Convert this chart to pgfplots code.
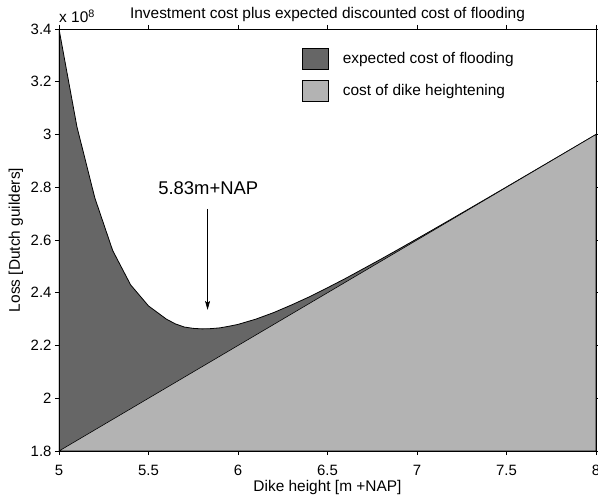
\documentclass[border=0pt]{standalone}
\usepackage{fontspec}
\setmainfont{Liberation Sans}
\usepackage{pgfplots}
\pgfplotsset{compat=1.18}
\usetikzlibrary{arrows.meta}
\definecolor{darkfill}{RGB}{102,102,102}
\definecolor{lightfill}{RGB}{179,179,179}
\begin{document}
\begin{tikzpicture}
\begin{axis}[
  name=ax,
  scale only axis,
  clip mode=individual,
  width=537bp, height=422bp,
  xmin=5, xmax=8, ymin=1.8, ymax=3.4,
  xtick={5,5.5,...,8}, ytick={1.8,2,...,3.4},
  yticklabels={1.8,2,2.2,2.4,2.6,2.8,3,3.2,3.4},
  xticklabels={5,5.5,6,6.5,7,7.5,8},
  tick align=outside,
  major tick length=4bp,
  tick style={black, line width=0.6pt},
  axis line style={black, line width=0.8pt},
  axis on top,
  font=\fontsize{15}{17}\selectfont,
  /pgf/number format/assume math mode=true,
  xticklabel style={anchor=base, yshift=-20bp},
  title={Investment cost plus expected discounted cost of flooding},
  title style={font=\fontsize{15.5}{17}\selectfont, at={(axis description cs:0.5,1)}, anchor=base, yshift=5bp},
  xlabel={Dike height [m +NAP]},
  ylabel={Loss [Dutch guilders]},
  xlabel style={font=\fontsize{15.5}{17}\selectfont, at={(axis description cs:0.5,0)}, anchor=base, yshift=-40bp},
  ylabel style={font=\fontsize{15.5}{17}\selectfont, at={(axis description cs:0,0.5)}, anchor=base, yshift=39bp},
  legend cell align=left,
  legend style={at={(rel axis cs:0.4525,0.955)}, anchor=north west, draw=none, fill=none,
     font=\fontsize{15.5}{17}\selectfont, row sep=10.5bp, inner sep=0pt,
     nodes={inner sep=0pt},
     /tikz/every odd column/.append style={column sep=14bp}},
  legend image code/.code={\draw[#1,draw=black,line width=0.6pt] (0bp,-10.5bp) rectangle (26bp,10.5bp);},
]
\addplot[fill=darkfill, draw=black, line width=0.8pt] coordinates {
(5.0,3.400) (5.1,3.030) (5.2,2.760) (5.3,2.560) (5.4,2.430) (5.5,2.350)
(5.6,2.300) (5.65,2.282) (5.7,2.270) (5.75,2.265) (5.8,2.263) (5.85,2.264) (5.9,2.267) (5.95,2.273)
(6.0,2.280) (6.1,2.300) (6.2,2.325) (6.3,2.354) (6.4,2.385) (6.5,2.419)
(6.6,2.454) (6.7,2.491) (6.8,2.528) (6.9,2.566) (7.0,2.6045) (7.1,2.6434)
(7.2,2.6825) (7.3,2.7219) (7.4,2.7614) (7.5,2.801) (7.6,2.8408) (7.7,2.8806)
(7.8,2.9204) (7.9,2.9603) (8.0,3.0002)
} \closedcycle;
\addlegendentry{expected cost of flooding}
\addplot[fill=lightfill, draw=black, line width=0.6pt] coordinates {
(5.0,1.8) (5.5,2.0) (6.0,2.2) (6.5,2.4) (7.0,2.6) (7.5,2.8) (8.0,3.0)
} \closedcycle;
\addlegendentry{cost of dike heightening}
\node[font=\fontsize{18.5}{20}\selectfont, anchor=base] at (axis cs:5.834,2.771) {5.83m+NAP};
\draw[-{Stealth[length=9bp,width=5bp,inset=2bp]}, line width=0.6pt] (axis cs:5.83,2.718) -- (axis cs:5.83,2.335);
\node[anchor=base west, inner sep=0pt, font=\fontsize{15.5}{17}\selectfont] at ([yshift=6bp]rel axis cs:0,1) {x 10\textsuperscript{8}};
\coordinate (bl) at (rel axis cs:0,0);
\coordinate (tr) at (rel axis cs:1,1);
\end{axis}
\pgfresetboundingbox
\useasboundingbox ([xshift=-59bp,yshift=-48bp]bl) rectangle ([xshift=2bp,yshift=29bp]tr);
\end{tikzpicture}
\end{document}
